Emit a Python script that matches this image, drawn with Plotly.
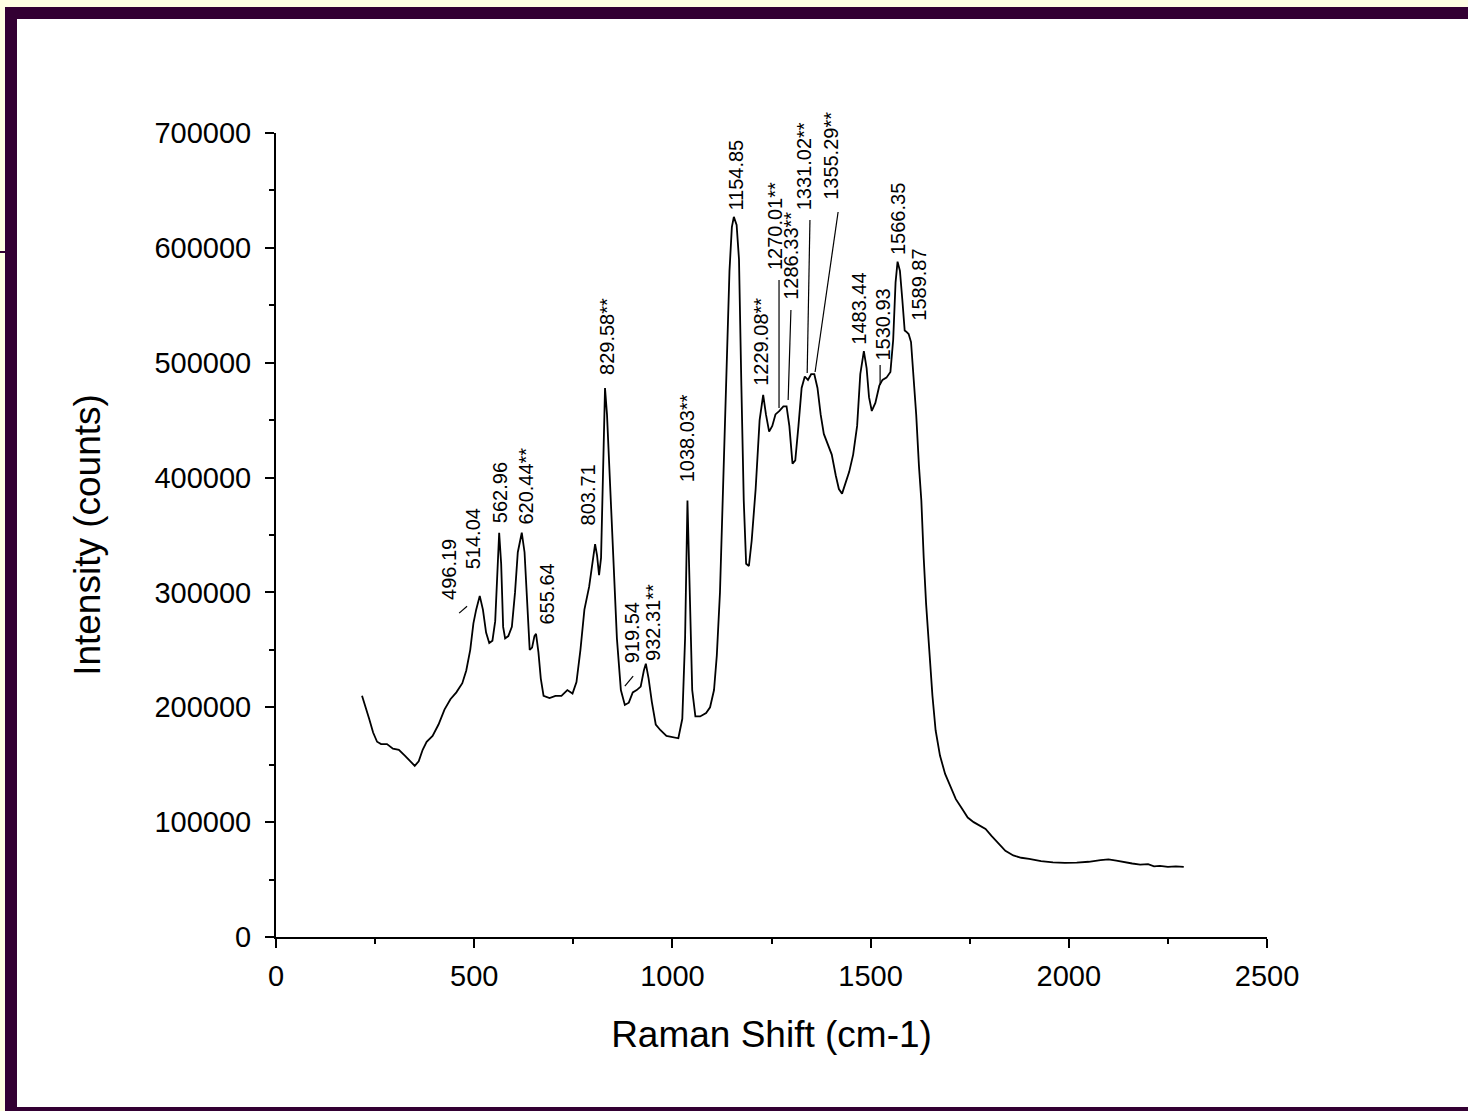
import plotly.graph_objects as go

# ---- spectrum data (Raman shift cm-1, intensity counts) ----
shift = [217, 225, 235, 245, 255, 265, 280, 295, 310, 325, 340, 350, 360, 370, 380, 395, 410, 425, 440, 455,
         470, 480, 490, 498, 505, 514, 522, 530, 538, 546, 553, 558, 563, 568, 573, 578, 586, 595, 603, 610,
         620, 627, 633, 640, 646, 652, 656, 662, 668, 675, 690, 705, 720, 735, 748, 758, 768, 778, 790, 800,
         805, 810, 815, 820, 826, 830, 835, 842, 850, 860, 870, 880, 890, 900, 910, 920, 928, 933, 940, 948,
         958, 970, 985, 1000, 1015, 1025, 1032, 1038, 1043, 1050, 1058, 1070, 1085, 1095, 1105, 1112, 1120, 1128, 1136, 1144,
         1150, 1155, 1162, 1168, 1174, 1180, 1186, 1193, 1200, 1210, 1220, 1229, 1236, 1244, 1252, 1260, 1270, 1280, 1288, 1295,
         1303, 1310, 1318, 1326, 1334, 1342, 1350, 1358, 1366, 1374, 1382, 1392, 1402, 1412, 1420, 1428, 1436, 1446, 1456, 1466,
         1474, 1483, 1490, 1496, 1503, 1512, 1522, 1530, 1540, 1550, 1557, 1563, 1568, 1574, 1580, 1586, 1590, 1596, 1602, 1608,
         1615, 1622, 1628, 1634, 1640, 1648, 1656, 1664, 1675, 1688, 1700, 1715, 1730, 1745, 1760, 1775, 1790, 1805, 1820, 1840,
         1860, 1880, 1900, 1930, 1960, 1990, 2020, 2050, 2080, 2100, 2120, 2140, 2160, 2180, 2200, 2215, 2230, 2250, 2270, 2290]
intensity = [210000, 202000, 190000, 178000, 170000, 168000, 168000, 164000, 163000, 158000, 152000, 149000, 153000, 163000, 170000, 175000, 185000, 198000, 207000, 213000,
             221000, 232000, 250000, 273000, 285000, 297000, 285000, 265000, 256000, 258000, 275000, 320000, 352000, 325000, 270000, 260000, 262000, 270000, 300000, 335000,
             352000, 335000, 295000, 250000, 252000, 262000, 264000, 248000, 225000, 210000, 208000, 210000, 210000, 215000, 212000, 222000, 250000, 285000, 305000, 330000,
             342000, 332000, 315000, 330000, 430000, 478000, 455000, 400000, 330000, 260000, 215000, 202000, 204000, 213000, 215000, 218000, 232000, 238000, 225000, 205000,
             185000, 180000, 175000, 174000, 173000, 190000, 260000, 380000, 300000, 215000, 192000, 192000, 195000, 200000, 215000, 245000, 300000, 400000, 500000, 580000,
             618000, 627000, 620000, 590000, 480000, 380000, 325000, 323000, 345000, 390000, 450000, 472000, 455000, 440000, 445000, 455000, 458000, 462000, 462000, 445000,
             412000, 415000, 445000, 478000, 488000, 485000, 490000, 490000, 478000, 455000, 438000, 428000, 420000, 402000, 390000, 386000, 395000, 405000, 420000, 445000,
             490000, 510000, 495000, 470000, 458000, 465000, 480000, 485000, 487000, 492000, 520000, 570000, 588000, 580000, 555000, 528000, 527000, 525000, 518000, 490000,
             455000, 410000, 380000, 330000, 290000, 250000, 210000, 180000, 158000, 142000, 132000, 120000, 112000, 104000, 100000, 97000, 94000, 88000, 82000, 75000,
             71000, 69000, 68000, 66000, 65000, 64500, 64800, 65500, 67000, 67500, 66500, 65000, 64000, 63000, 63500, 61500, 62000, 61000, 61500, 61000]

# ---- peak labels: text, label x (cm-1), label base intensity ----
peak_text = ["496.19", "514.04", "562.96", "620.44**", "655.64", "803.71", "829.58**", "919.54", "932.31**",
             "1038.03**", "1154.85", "1229.08**", "1270.01**", "1286.33**", "1331.02**", "1355.29**",
             "1483.44", "1530.93", "1566.35", "1589.87"]
peak_x = [436, 497, 565, 631, 684, 787, 835, 898, 951, 1039, 1160, 1223, 1259, 1299, 1332, 1400, 1471, 1531, 1569, 1620]
peak_y = [292000, 318000, 359000, 357000, 270000, 357000, 488000, 237000, 239000, 394000, 631000, 478000,
          579000, 553000, 631000, 640000, 514000, 500000, 592000, 535000]

# leader lines: (x0, y0, x1, y1) in data units
leaders = [(462, 282000, 482, 288000), (880, 218500, 901, 227200), (1269, 572000, 1269, 460600),
           (1299, 545900, 1292, 467500), (1347, 624200, 1340, 491000), (1418, 631200, 1360, 491900),
           (1524, 498000, 1524, 480600)]

x_ticks = [0, 500, 1000, 1500, 2000, 2500]
y_ticks = [0, 100000, 200000, 300000, 400000, 500000, 600000, 700000]

FONT = "Liberation Sans, Arial, sans-serif"
W, H = 1468, 1111
L, R, T, B = 276, 1267, 133, 937


def px(xp):
    return (xp - L) / (R - L)


def py(yp):
    return (B - yp) / (B - T)


fig = go.Figure()
fig.add_trace(go.Scatter(x=shift, y=intensity, mode="lines",
                         line=dict(color="black", width=1.8), showlegend=False, hoverinfo="skip"))

shapes = [
    dict(type="rect", xref="paper", yref="paper", x0=px(0), x1=px(W), y0=py(0), y1=py(H),
         fillcolor="#330033", line=dict(width=0), layer="below"),
    dict(type="rect", xref="paper", yref="paper", x0=px(0), x1=px(W), y0=py(0), y1=py(7),
         fillcolor="#ffffe3", line=dict(width=0), layer="below"),
    dict(type="rect", xref="paper", yref="paper", x0=px(0), x1=px(5), y0=py(0), y1=py(H),
         fillcolor="#ffffe3", line=dict(width=0), layer="below"),
    dict(type="rect", xref="paper", yref="paper", x0=px(17), x1=px(W), y0=py(19), y1=py(1107),
         fillcolor="white", line=dict(width=0), layer="below"),
    dict(type="line", xref="paper", yref="paper", x0=px(0), x1=px(6), y0=py(252), y1=py(252),
         line=dict(color="#330033", width=2), layer="below"),
]
for (a, b, c, d) in leaders:
    shapes.append(dict(type="line", xref="x", yref="y", x0=a, y0=b, x1=c, y1=d,
                       line=dict(color="black", width=1.2)))

annotations = []
for t, xv, yv in zip(peak_text, peak_x, peak_y):
    annotations.append(dict(x=xv, y=yv, xref="x", yref="y", text=t, textangle=-90,
                            showarrow=False, xanchor="center", yanchor="bottom",
                            font=dict(family=FONT, size=20, color="black")))

fig.update_layout(
    width=W, height=H,
    margin=dict(l=L, r=W - R, t=T, b=H - B, pad=0),
    paper_bgcolor="white", plot_bgcolor="rgba(0,0,0,0)",
    font=dict(family=FONT, color="black"),
    shapes=shapes, annotations=annotations, showlegend=False,
    xaxis=dict(range=[0, 2500], tickvals=x_ticks, ticktext=[str(v) for v in x_ticks],
               showgrid=False, zeroline=False, showline=True, linecolor="black", linewidth=2,
               ticks="outside", ticklen=9, tickwidth=2, tickcolor="black", ticklabelstandoff=3,
               minor=dict(dtick=250, ticks="outside", ticklen=5, tickwidth=2, tickcolor="black", showgrid=False),
               tickfont=dict(family=FONT, size=29, color="black"),
               title=dict(text="Raman Shift (cm-1)", font=dict(family=FONT, size=37, color="black"), standoff=30)),
    yaxis=dict(range=[0, 700000], tickvals=y_ticks, ticktext=[str(v) for v in y_ticks],
               showgrid=False, zeroline=False, showline=True, linecolor="black", linewidth=2,
               ticks="outside", ticklen=9, tickwidth=2, tickcolor="black", ticklabelstandoff=8,
               minor=dict(dtick=50000, ticks="outside", ticklen=5, tickwidth=2, tickcolor="black", showgrid=False),
               tickfont=dict(family=FONT, size=29, color="black"),
               title=dict(text="Intensity (counts)", font=dict(family=FONT, size=37, color="black"), standoff=42)),
)

fig.write_html("out.html")
